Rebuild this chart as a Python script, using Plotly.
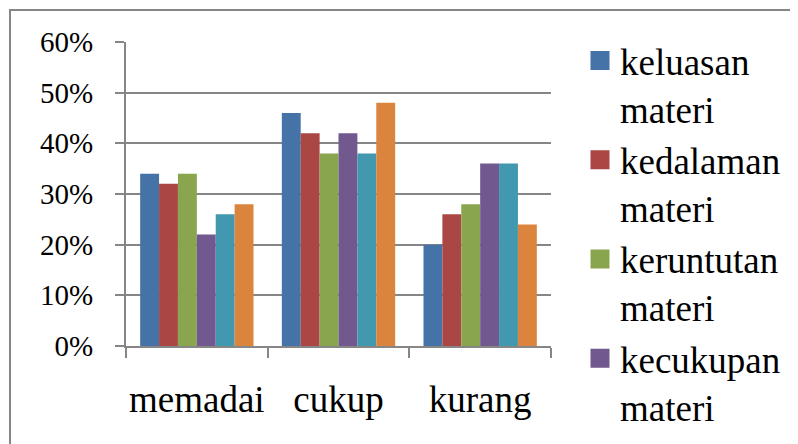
import plotly.graph_objects as go

categories = ["memadai", "cukup", "kurang"]
series_names = ["keluasan<br>materi", "kedalaman<br>materi", "keruntutan<br>materi",
                "kecukupan<br>materi", "kelima<br>materi", "keenam<br>materi"]
values = [
    [0.34, 0.46, 0.20],
    [0.32, 0.42, 0.26],
    [0.34, 0.38, 0.28],
    [0.22, 0.42, 0.36],
    [0.26, 0.38, 0.36],
    [0.28, 0.48, 0.24],
]
colors = ["#4572A7", "#AA4643", "#89A54E", "#71588F", "#4198AF", "#DB843D"]
show_in_legend = [True, True, True, True, False, False]
y_ticks = [0, 0.1, 0.2, 0.3, 0.4, 0.5, 0.6]

W, H = 798, 444
OFF = 8  # page body margin offset
L, R = 126 - OFF, W - (551 - OFF)
pw = W - L - R
AX_TOP, AX_BOT = 42 - OFF, 346 - OFF  # figure rows of 60% and 0%

fig = go.Figure()
for name, vals, col in zip(series_names, values, colors):
    fig.add_trace(go.Bar(x=categories, y=vals, name=name, marker_color=col,
                         marker_line_width=0, showlegend=False, legendgroup=name))
# legend swatches (larger squares than the default bar swatch)
for name, col, sl in zip(series_names, colors, show_in_legend):
    if sl:
        fig.add_trace(go.Scatter(x=[None], y=[None], mode="markers", name=name,
                                 legendgroup=name,
                                 marker=dict(symbol="square", size=16, color=col,
                                             line=dict(color=col, width=3))))

serif = "Liberation Serif"
grid = "#868686"

def py(p):
    return (H - p) / H

fig.update_layout(
    width=W, height=H,
    margin=dict(l=L, r=R, t=0, b=0, pad=0, autoexpand=False),
    paper_bgcolor="white", plot_bgcolor="white",
    barmode="group", bargap=0.2, bargroupgap=0,
    font=dict(family=serif, color="black"),
    legend=dict(x=(580 - OFF - L) / pw, xanchor="left", y=py(30 - OFF), yanchor="top",
                valign="top", itemsizing="trace",
                font=dict(family=serif, size=37, color="black"),
                bgcolor="rgba(0,0,0,0)", itemclick=False, tracegroupgap=0),
    xaxis=dict(showline=True, linecolor=grid, linewidth=2, ticks="outside",
               tickson="boundaries", ticklen=10, tickwidth=2, tickcolor=grid,
               tickfont=dict(family=serif, size=37), showgrid=False,
               tickangle=0, ticklabelstandoff=20, anchor="y", automargin=False),
    yaxis=dict(domain=[py(AX_BOT), py(AX_TOP)],
               range=[0, 0.6], tickvals=y_ticks, tickformat=".0%",
               showline=True, linecolor=grid, linewidth=2,
               ticks="outside", ticklen=9, tickwidth=2, tickcolor=grid,
               showgrid=True, gridcolor=grid, gridwidth=2, zeroline=False,
               tickfont=dict(family=serif, size=29), ticklabelstandoff=16,
               automargin=False),
    shapes=[dict(type="rect", xref="paper", yref="paper",
                 x0=(10 - OFF - L) / pw, x1=(W + 20 - L) / pw,
                 y0=-0.1, y1=py(10 - OFF),
                 line=dict(color=grid, width=2), fillcolor="rgba(0,0,0,0)",
                 layer="below")],
)

fig.write_html("out.html")
